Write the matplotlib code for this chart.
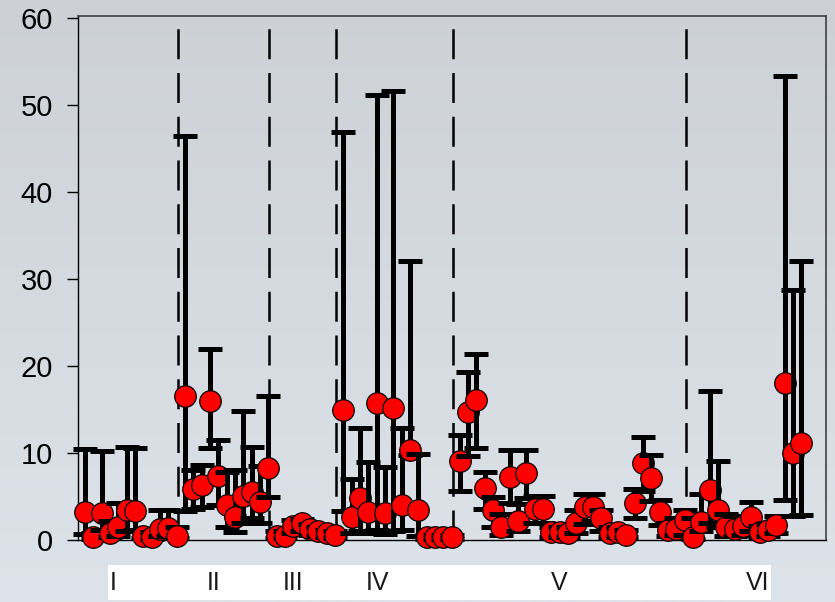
import numpy as np
import matplotlib
matplotlib.use("Agg")
import matplotlib.pyplot as plt
from matplotlib.patches import Rectangle

plt.rcParams['font.family'] = ['Liberation Sans', 'DejaVu Sans']

# sample values (median) with lower / upper limits, in sample order
values = [3.2, 0.35, 3.1, 0.8, 1.5, 3.4, 3.3, 0.5, 0.35, 1.3, 1.4, 0.5,
          16.6, 5.9, 6.3, 16.0, 7.4, 4.0, 2.6, 5.1, 5.5, 4.4, 8.3,
          0.5, 0.5, 1.6, 1.9, 1.3, 1.0, 0.8, 0.6,
          14.9, 2.6, 4.8, 3.2, 15.7, 3.1, 15.2, 4.0, 10.3, 3.4, 0.3, 0.3, 0.3, 0.3,
          9.1, 14.7, 16.1, 6.0, 3.4, 1.5, 7.2, 2.2, 7.7, 3.6, 3.6, 0.9, 0.9, 0.8,
          1.9, 3.8, 3.8, 2.5, 0.8, 0.9, 0.6, 4.2, 8.8, 7.1, 3.2, 1.1, 1.3, 2.3,
          0.35, 2.1, 5.7, 3.4, 1.5, 1.3, 1.6, 2.6, 0.9, 1.1, 1.7, 18.0, 10.0, 11.1]
lower = [0.7, 0.1, 1.2, 0.3, 0.5, 1.0, 1.2, 0.2, 0.1, 0.5, 0.5, 0.2,
         3.3, 3.6, 3.8, 10.6, 4.0, 1.5, 0.9, 2.0, 2.5, 2.0, 4.9,
         0.2, 0.2, 0.8, 1.0, 0.6, 0.5, 0.4, 0.2,
         3.3, 0.8, 1.0, 0.8, 1.2, 0.7, 1.0, 1.2, 9.8, 0.5, 0.1, 0.1, 0.1, 0.1,
         5.6, 9.6, 10.6, 3.6, 1.5, 0.6, 4.2, 1.0, 4.8, 2.0, 2.0, 0.4, 0.4, 0.4,
         0.8, 1.8, 2.2, 1.0, 0.4, 0.4, 0.3, 2.5, 5.6, 4.5, 1.7, 0.5, 0.6, 0.6,
         0.1, 1.0, 2.0, 1.5, 0.5, 0.5, 0.6, 1.0, 0.4, 0.5, 0.8, 4.6, 2.8, 2.9]
upper = [10.4, 0.8, 10.2, 2.2, 4.2, 10.7, 10.6, 1.2, 0.9, 3.5, 3.4, 1.5,
         46.4, 8.0, 8.6, 22.0, 11.5, 7.8, 8.0, 14.8, 10.7, 8.5, 16.5,
         1.0, 1.0, 2.3, 2.4, 1.8, 1.5, 1.2, 1.0,
         46.9, 7.0, 12.9, 9.0, 51.1, 8.4, 51.6, 12.9, 32.0, 9.9, 0.6, 0.6, 0.6, 0.6,
         12.1, 19.3, 21.4, 7.8, 4.9, 3.0, 10.3, 4.1, 10.3, 5.0, 5.0, 1.5, 1.5, 1.5,
         3.4, 5.3, 5.3, 3.4, 1.5, 1.5, 1.2, 5.9, 11.8, 9.8, 4.6, 2.0, 2.5, 3.4,
         2.5, 5.3, 17.1, 9.1, 3.0, 2.8, 2.8, 4.4, 1.6, 1.8, 2.8, 53.3, 28.7, 32.1]

group_names = ['I', 'II', 'III', 'IV', 'V', 'VI']
group_breaks = [11.2, 22.1, 30.1, 44.2, 72.2]
label_x = [113, 214, 293, 378, 559, 758]   # pixel positions in the table strip

W, H = 835, 602
fig = plt.figure(figsize=(W / 100, H / 100), dpi=100)

# gradient background over the whole figure
bg = fig.add_axes([0, 0, 1, 1], zorder=-10)
grad = np.linspace(0, 1, 256).reshape(-1, 1)
top = np.array([205, 209, 214]) / 255
bot = np.array([221, 227, 234]) / 255
img = top + (bot - top) * grad[..., None]
bg.imshow(img, aspect='auto', extent=[0, 1, 0, 1], origin='upper')
bg.set_axis_off()

ax = fig.add_axes([78 / W, 1 - 540 / H, (826 - 78) / W, (540 - 16) / H])
ax.patch.set_alpha(0)

x = np.arange(len(values))
for i in range(len(values)):
    z = 3 + i * 2
    ax.errorbar(x[i], values[i],
                yerr=[[values[i] - lower[i]], [upper[i] - values[i]]],
                fmt='none', ecolor='black', elinewidth=3.6, capsize=8.3,
                capthick=3.6, zorder=z, clip_on=False)
    ax.plot(x[i], values[i], 'o', ms=15.5, mfc='#ff0000', mec='black',
            mew=0.9, zorder=z + 1, clip_on=False)

for b in group_breaks:
    ax.axvline(b, ymin=0, ymax=0.99, color='black', lw=1.8,
               dashes=(12, 5.5), zorder=1)

ax.set_xlim(-0.84, 88.96)
ax.set_ylim(0, 60.2)
ax.set_yticks(range(0, 61, 10))
ax.set_xticks([])
ax.tick_params(axis='y', direction='out', length=8, width=1, labelsize=21,
               pad=10, colors='black')
for s in ['left', 'bottom']:
    ax.spines[s].set_color('black')
    ax.spines[s].set_linewidth(1)
for s in ['top', 'right']:
    ax.spines[s].set_color('#404040')
    ax.spines[s].set_linewidth(1.2)

# table-like strip with the group names under the plot
strip = Rectangle((108 / W, 1 - 600 / H), (771 - 108) / W, 35 / H,
                  transform=fig.transFigure, facecolor='white',
                  edgecolor='none', zorder=0)
fig.patches.append(strip)
for name, px in zip(group_names, label_x):
    fig.text(px / W, 1 - 583 / H, name, ha='center', va='center',
             fontsize=18, color='#1a1a1a')

fig.savefig('out.png', dpi=100)
